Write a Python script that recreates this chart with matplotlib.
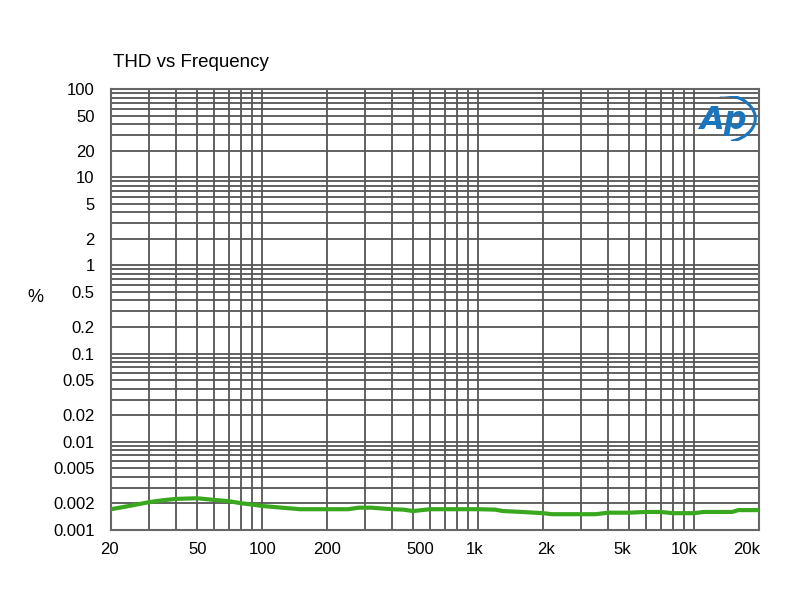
import matplotlib
matplotlib.use("Agg")
import matplotlib.pyplot as plt
import matplotlib.transforms as mtransforms
from matplotlib.patches import Arc
from matplotlib.ticker import FixedLocator, NullFormatter, LogLocator

plt.rcParams['font.family'] = ['Liberation Sans', 'DejaVu Sans']

freq = [20, 25, 30, 35, 40, 50, 60, 70, 80, 90, 100, 120, 150, 200, 250, 280, 320, 350,
        400, 450, 500, 600, 800, 1000, 1200, 1300, 1600, 2000, 2200, 2800, 3500, 4000,
        5000, 6000, 7000, 8000, 10000, 11000, 15000, 16000, 20000]
thd = [0.00172, 0.00190, 0.00207, 0.00218, 0.00225, 0.00229, 0.00219, 0.00212, 0.00201,
       0.00194, 0.00187, 0.00180, 0.00172, 0.00172, 0.00172, 0.00179, 0.00179, 0.00176,
       0.00172, 0.00170, 0.00164, 0.00172, 0.00172, 0.00172, 0.00170, 0.00164, 0.00160,
       0.00155, 0.00151, 0.00151, 0.00151, 0.00157, 0.00157, 0.00160, 0.00160, 0.00155,
       0.00155, 0.00160, 0.00160, 0.00168, 0.00168]

xticks = [20, 50, 100, 200, 500, 1000, 2000, 5000, 10000, 20000]
xlabels = ['20', '50', '100', '200', '500', '1k', '2k', '5k', '10k', '20k']
yticks = [0.001, 0.002, 0.005, 0.01, 0.02, 0.05, 0.1, 0.2, 0.5, 1, 2, 5, 10, 20, 50, 100]
ylabels = ['0.001', '0.002', '0.005', '0.01', '0.02', '0.05', '0.1', '0.2', '0.5',
           '1', '2', '5', '10', '20', '50', '100']

fig = plt.figure(figsize=(8, 6), dpi=100)
ax = fig.add_axes([0.139, 0.1167, 0.81, 0.735])
ax.set_xscale('log')
ax.set_yscale('log')
ax.set_xlim(20, 20000)
ax.set_ylim(0.001, 100)

ax.plot(freq, thd, color='#3aa81e', lw=3, solid_capstyle='round', zorder=3)

ax.xaxis.set_major_locator(FixedLocator(xticks))
ax.set_xticklabels(xlabels)
ax.xaxis.set_minor_locator(LogLocator(base=10, subs=range(1, 10), numticks=100))
ax.xaxis.set_minor_formatter(NullFormatter())
ax.yaxis.set_major_locator(FixedLocator(yticks))
ax.set_yticklabels(ylabels)
ax.yaxis.set_minor_locator(LogLocator(base=10, subs=range(1, 10), numticks=100))
ax.yaxis.set_minor_formatter(NullFormatter())

ax.grid(True, which='both', color='#555555', lw=1.3)
ax.tick_params(which='both', length=0, labelsize=12, colors='black')
ax.tick_params(axis='x', pad=9)
ax.tick_params(axis='y', pad=12)
for s in ax.spines.values():
    s.set_color('#666666')
    s.set_linewidth(1.5)

# small label offsets (pixels) as in the reference
shifts = {'20': -2, '500': 7, '1k': -4, '2k': 3, '5k': -7, '10k': -10, '20k': -13}
for lab in ax.get_xticklabels():
    dx = shifts.get(lab.get_text(), 0)
    if dx:
        lab.set_transform(lab.get_transform() +
                          mtransforms.ScaledTranslation(dx / 100, 0, fig.dpi_scale_trans))

fig.text(0.141, 0.888, 'THD vs Frequency', fontsize=13.5, ha='left', va='baseline')
fig.text(0.044, 0.505, '%', fontsize=13, ha='center', va='center')

# Ap logo
lax = fig.add_axes([0.872, 0.765, 0.078, 0.075])
lax.set_xlim(0, 1)
lax.set_ylim(0, 1)
lax.axis('off')
lax.patch.set_alpha(0)
lax.text(0.40, 0.46, 'Ap', color='#1b75bc', fontsize=23, fontstyle='italic',
         fontweight='bold', ha='center', va='center', family='DejaVu Sans')
lax.add_patch(Arc((0.40, 0.5), 1.05, 1.05, theta1=-75, theta2=95, color='#1b75bc', lw=2.2))

fig.savefig('out.png', dpi=100, facecolor='white')
